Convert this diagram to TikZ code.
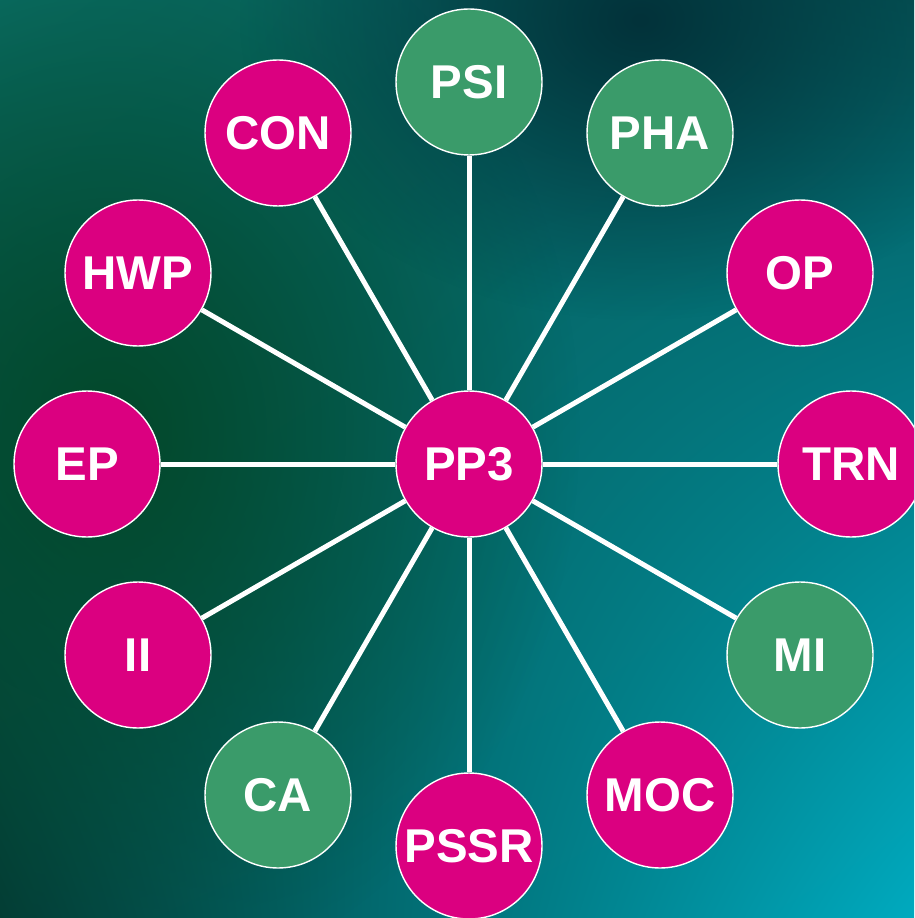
\documentclass[tikz,border=0pt]{standalone}
\usepackage{fontspec}
\setmainfont{Liberation Sans}
\usepackage{tikz}
\usetikzlibrary{calc}
\usetikzlibrary{positioning}
\usetikzlibrary{fadings,shadings}

\definecolor{bgTL}{HTML}{0A7068}
\definecolor{bgTR}{HTML}{05585A}
\definecolor{bgBL}{HTML}{033C36}
\definecolor{bgBR}{HTML}{00AABF}
\definecolor{leafGreen}{HTML}{03482A}
\definecolor{topDark}{HTML}{02323A}
\definecolor{topicPink}{HTML}{DB0080}
\definecolor{topicGreen}{HTML}{3A9B6A}

\tikzfading[name=softspot, inner color=transparent!0, outer color=transparent!100]

\tikzset{
    topic/.style={shape=circle, draw=white, line width=0.8pt, minimum size=2.92cm,
        inner sep=0pt, text=white, font=\fontsize{27}{31}\selectfont\bfseries},
    pinktopic/.style={topic, fill=topicPink},
    greentopic/.style={topic, fill=topicGreen},
    spoke/.style={draw=white, line width=0.1cm}
}

\begin{document}
\begin{tikzpicture}[x=0.02cm, y=-0.02cm]
        % background
        \useasboundingbox (0,0) rectangle (914,918);
        \clip (0,0) rectangle (914,918);
        \shade[upper left=bgTL, upper right=bgTR, lower left=bgBL, lower right=bgBR] (0,0) rectangle (914,918);
        \fill[leafGreen, path fading=softspot] (110,430) ellipse (470 and 560);
        \fill[topDark, path fading=softspot] (640,20) ellipse (400 and 300);

        % centre
        \node (pp3) at (469,464) [pinktopic] {PP3};

        % ring
        \node (psi) at (469,82) [greentopic] {PSI};
        \node (pha) at (660,133) [greentopic] {PHA};
        \node (op) at (800,273) [pinktopic] {OP};
        \node (trn) at (851,464) [pinktopic] {TRN};
        \node (mi) at (800,655) [greentopic] {MI};
        \node (moc) at (660,795) [pinktopic] {MOC};
        \node (pssr) at (469,846) [pinktopic] {PSSR};
        \node (ca) at (278,795) [greentopic] {CA};
        \node (ii) at (138,655) [pinktopic] {II};
        \node (ep) at (87,464) [pinktopic] {EP};
        \node (hwp) at (138,273) [pinktopic] {HWP};
        \node (con) at (278,133) [pinktopic] {CON};

        \foreach \n in {psi,pha,op,trn,mi,moc,pssr,ca,ii,ep,hwp,con}
            \draw[spoke] (pp3) -- (\n);
    \end{tikzpicture}
\end{document}
